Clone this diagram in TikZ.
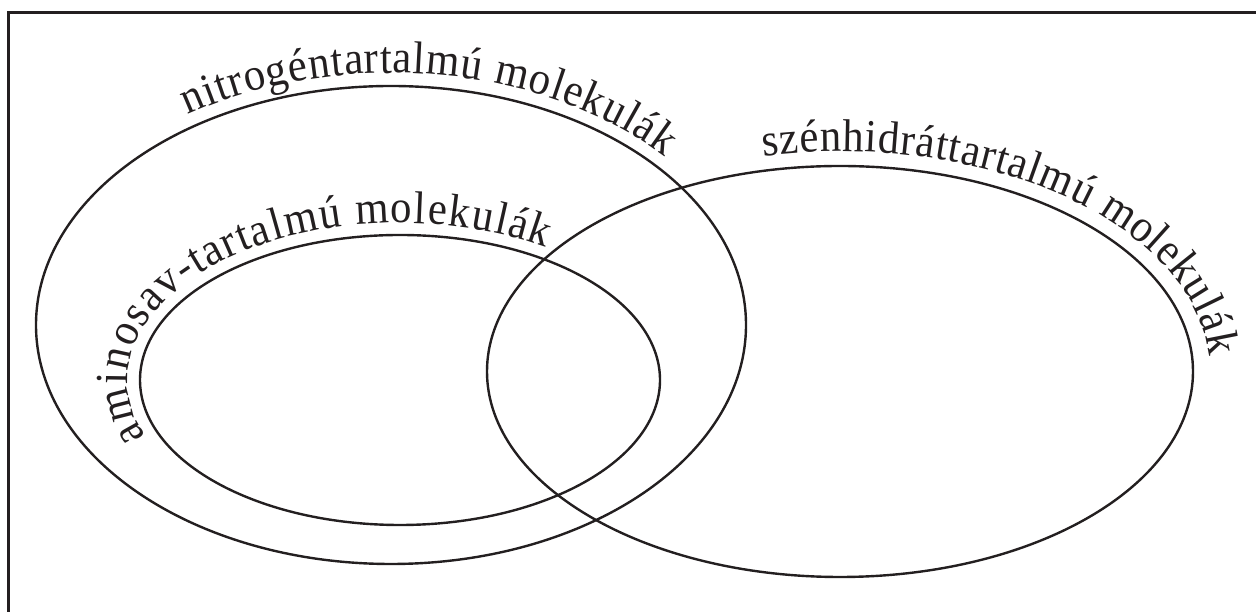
\documentclass[tikz,border=0pt]{standalone}
\usepackage{fontspec}
\setmainfont{Liberation Serif}
\newfontfamily\lblfamily[FakeStretch=0.93]{Liberation Serif}
\usetikzlibrary{decorations.text}
\definecolor{ink}{HTML}{231F20}
\newcommand\lblfont{\lblfamily\fontsize{46}{54}\selectfont}
\begin{document}
\begin{tikzpicture}[x=1pt,y=1pt,
  setline/.style={draw=ink,line width=2.4pt},
  framestyle/.style={draw=ink,line width=3pt},
  curvelabel/.style={decorate,decoration={text along path,text color=ink,
    text align=fit to path,text={#1}}}]
\useasboundingbox (0,0) rectangle (1256,612);
% frame (runs off the right and bottom edges)
\draw[framestyle] (8,-5) -- (8,599.5) -- (1262,599.5);
% sets
\draw[setline] (391,287) ellipse[x radius=355,y radius=239];
\draw[setline] (400,232) ellipse[x radius=260,y radius=145];
\draw[setline] (840,240.5) ellipse[x radius=353,y radius=205.5];
% curved labels
\path[curvelabel={|\lblfont|nitrogéntartalmú molekulák}]
  (391,287) ++(123.5:368 and 252) arc[start angle=123.5,end angle=42,x radius=368,y radius=252];
\path[curvelabel={|\lblfont|aminosav-tartalmú molekulák}]
  (400,232) ++(201:272 and 157) arc[start angle=201,end angle=57.5,x radius=272,y radius=157];
\path[curvelabel={|\lblfont|szénhidráttartalmú molekulák}]
  (840,240.5) ++(102:370 and 220) arc[start angle=102,end angle=4,x radius=370,y radius=220];
\end{tikzpicture}
\end{document}
